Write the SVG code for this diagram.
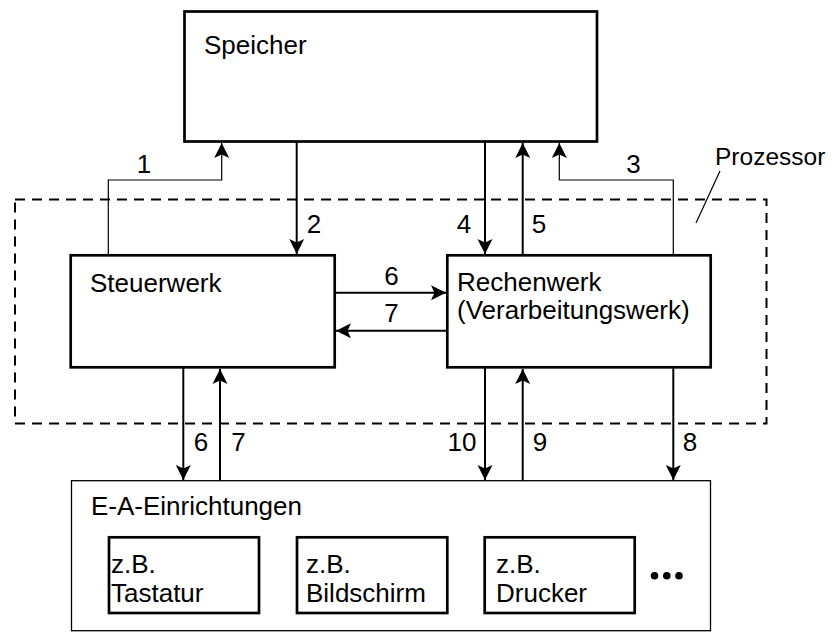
<svg xmlns="http://www.w3.org/2000/svg" width="838" height="632" viewBox="0 0 838 632">
  <defs>
    <marker id="arrow" viewBox="-16 -8 17 16" refX="0" refY="0" markerWidth="17" markerHeight="16" markerUnits="userSpaceOnUse" orient="auto">
      <path d="M0,0 L-15,-7.5 L-11.5,0 L-15,7.5 Z" fill="#000"/>
    </marker>
    <style>
      text { font-family: "Liberation Sans", Arial, sans-serif; font-size: 26px; fill: #000; }
      .num { text-anchor: middle; }
      .box { fill: #fff; stroke: #000; stroke-width: 2.7; }
      .outer { fill: #fff; stroke: #000; stroke-width: 1.3; }
      .proc { fill: none; stroke: #000; stroke-width: 2; stroke-dasharray: 10 7; }
      .bus { fill: none; stroke: #000; stroke-width: 2; marker-end: url(#arrow); }
      .thin { fill: none; stroke: #000; stroke-width: 1.2; marker-end: url(#arrow); }
    </style>
  </defs>
  <rect width="838" height="632" fill="#fff"/>

  <!-- processor boundary -->
  <g id="prozessor">
    <rect class="proc" x="15" y="199.5" width="751.5" height="224"/>
    <text x="715" y="165" style="font-size:24.5px">Prozessor</text>
    <line x1="720" y1="171" x2="696" y2="223" stroke="#000" stroke-width="1.2"/>
  </g>

  <g id="speicher">
    <rect class="box" x="184.5" y="11.5" width="412.5" height="130"/>
    <text x="204" y="54">Speicher</text>
  </g>

  <g id="steuerwerk">
    <rect class="box" x="70.7" y="255.3" width="264" height="112"/>
    <text x="90" y="292">Steuerwerk</text>
  </g>

  <g id="rechenwerk">
    <rect class="box" x="447.3" y="255.3" width="263.4" height="112"/>
    <text x="457" y="291">Rechenwerk</text>
    <text x="457" y="319">(Verarbeitungswerk)</text>
  </g>

  <g id="ea-einrichtungen">
    <rect class="outer" x="71.5" y="480.7" width="639" height="150"/>
    <text x="91" y="515">E-A-Einrichtungen</text>
    <g id="tastatur">
      <rect class="box" x="109" y="537.3" width="150" height="75.7"/>
      <text x="111" y="573">z.B.</text>
      <text x="111" y="601.5">Tastatur</text>
    </g>
    <g id="bildschirm">
      <rect class="box" x="297" y="537.3" width="150.3" height="75.7"/>
      <text x="306" y="573">z.B.</text>
      <text x="306" y="601.5">Bildschirm</text>
    </g>
    <g id="drucker">
      <rect class="box" x="484.7" y="537.3" width="150" height="75.7"/>
      <text x="496" y="573">z.B.</text>
      <text x="496" y="601.5">Drucker</text>
    </g>
    <g id="weitere">
      <circle cx="654.5" cy="575.7" r="3.8"/>
      <circle cx="666.8" cy="575.7" r="3.8"/>
      <circle cx="679" cy="575.7" r="3.8"/>
    </g>
  </g>

  <g id="connectors">
    <!-- processor to memory -->
    <polyline class="thin" points="108.3,255 108.3,180 221.7,180 221.7,143"/>
    <line class="bus" x1="296.7" y1="142" x2="296.7" y2="254"/>
    <polyline class="thin" points="673.3,255 673.3,180 559.3,180 559.3,143"/>
    <line class="bus" x1="485" y1="142" x2="485" y2="254"/>
    <line class="bus" x1="522.7" y1="255" x2="522.7" y2="143"/>
    <!-- between control unit and ALU -->
    <line class="bus" x1="336" y1="292.7" x2="446" y2="292.7"/>
    <line class="bus" x1="446" y1="330.7" x2="336" y2="330.7"/>
    <!-- processor to I/O -->
    <line class="bus" x1="183.3" y1="368" x2="183.3" y2="480"/>
    <line class="bus" x1="220" y1="481" x2="220" y2="369"/>
    <line class="bus" x1="485" y1="368" x2="485" y2="480"/>
    <line class="bus" x1="522.7" y1="481" x2="522.7" y2="369"/>
    <line class="bus" x1="673.3" y1="368" x2="673.3" y2="480"/>

    <text class="num" x="144" y="173">1</text>
    <text class="num" x="314" y="233">2</text>
    <text class="num" x="633.5" y="173">3</text>
    <text class="num" x="464" y="233">4</text>
    <text class="num" x="539" y="233">5</text>
    <text class="num" x="391.5" y="285">6</text>
    <text class="num" x="391.5" y="322">7</text>
    <text class="num" x="201" y="451">6</text>
    <text class="num" x="238.5" y="451">7</text>
    <text class="num" x="462" y="451">10</text>
    <text class="num" x="540" y="451">9</text>
    <text class="num" x="690" y="451">8</text>
  </g>
</svg>
